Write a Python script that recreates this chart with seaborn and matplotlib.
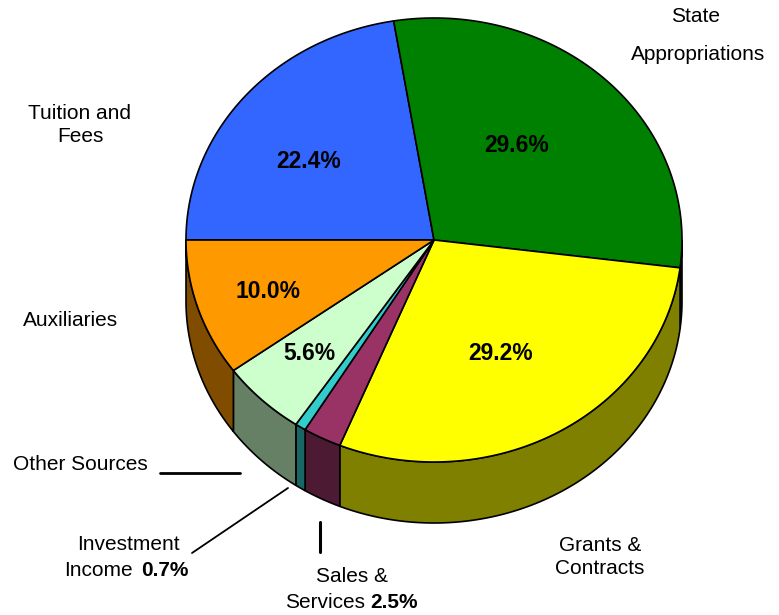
import numpy as np
import matplotlib
matplotlib.use('Agg')
import matplotlib.pyplot as plt
import seaborn as sns

# slice data, clockwise starting from the left edge
labels = ['Tuition and Fees', 'State Appropriations', 'Grants & Contracts',
          'Sales & Services', 'Investment Income', 'Other Sources', 'Auxiliaries']
shares = [22.4, 29.6, 29.2, 2.5, 0.7, 5.6, 10.0]
top_colors = ['#3366FF', '#008000', '#FFFF00', '#993366', '#33CCCC', '#CCFFCC', '#FF9900']
side_colors = ['#1A3380', '#004000', '#808000', '#4D1A33', '#1A6666', '#668066', '#804C00']

sns.set_theme(style='white')
plt.rcParams['font.family'] = ['Liberation Sans', 'DejaVu Sans']
plt.rcParams['text.color'] = 'black'

fig = plt.figure(figsize=(7.79, 6.15), dpi=100)
ax = fig.add_axes([0, 0, 1, 1])
ax.set_xlim(0, 779)
ax.set_ylim(615, 0)
ax.axis('off')

# pie geometry (pixels)
cx, cy, rx, ry, depth = 434, 240, 248, 222, 61


def arc(t_from, t_to, dy=0, n=200):
    t = np.radians(np.linspace(t_from, t_to, n))
    return cx + rx * np.cos(t), cy - ry * np.sin(t) + dy


edges = 180 - 3.6 * np.concatenate([[0], np.cumsum(shares)])

# side walls (front half only)
for i in range(len(shares)):
    hi = min(edges[i], 0)
    lo = max(edges[i + 1], -180)
    if lo < hi:
        xt, yt = arc(hi, lo)
        xb, yb = arc(lo, hi, dy=depth)
        ax.fill(np.concatenate([xt, xb]), np.concatenate([yt, yb]),
                facecolor=side_colors[i], edgecolor='black', linewidth=1.2)

# top faces
for i in range(len(shares)):
    xa, ya = arc(edges[i], edges[i + 1])
    ax.fill(np.concatenate([[cx], xa]), np.concatenate([[cy], ya]),
            facecolor=top_colors[i], edgecolor='black', linewidth=1.2)

name_fs = 15
pct_fs = 16.5

# percentages inside slices
pct_pos = {0: (309, 162), 1: (517, 146), 2: (501, 354), 6: (268, 291), 5: (309, 354)}
for i, (px, py) in pct_pos.items():
    ax.text(px, py, f'{shares[i]:.1f}%', fontsize=pct_fs, fontweight='bold',
            ha='center', va='center')

# category labels
ax.text(696, 16, 'State', fontsize=name_fs, ha='center', va='center')
ax.text(698, 54, 'Appropriations', fontsize=name_fs, ha='center', va='center')
ax.text(80, 125, 'Tuition and\nFees', fontsize=name_fs, ha='center', va='center', linespacing=1.3)
ax.text(71, 320, 'Auxiliaries', fontsize=name_fs, ha='center', va='center')
ax.text(80, 464, 'Other Sources', fontsize=name_fs, ha='center', va='center')
ax.text(128, 544, 'Investment', fontsize=name_fs, ha='center', va='center')
ax.text(133, 571, 'Income', fontsize=name_fs, ha='right', va='center')
ax.text(141, 571, f'{shares[4]:.1f}%', fontsize=name_fs, fontweight='bold', ha='left', va='center')
ax.text(352, 577, 'Sales &', fontsize=name_fs, ha='center', va='center')
ax.text(365, 603, 'Services', fontsize=name_fs, ha='right', va='center')
ax.text(370, 603, f'{shares[3]:.1f}%', fontsize=name_fs, fontweight='bold', ha='left', va='center')
ax.text(600, 557, 'Grants &\nContracts', fontsize=name_fs, ha='center', va='center', linespacing=1.3)

# leader lines
ax.plot([160, 240], [473, 473], color='black', linewidth=2)
ax.plot([192, 288], [553, 488], color='black', linewidth=1.3)
ax.plot([320, 320], [522, 552], color='black', linewidth=2.2)

fig.savefig('out.png', dpi=100)
